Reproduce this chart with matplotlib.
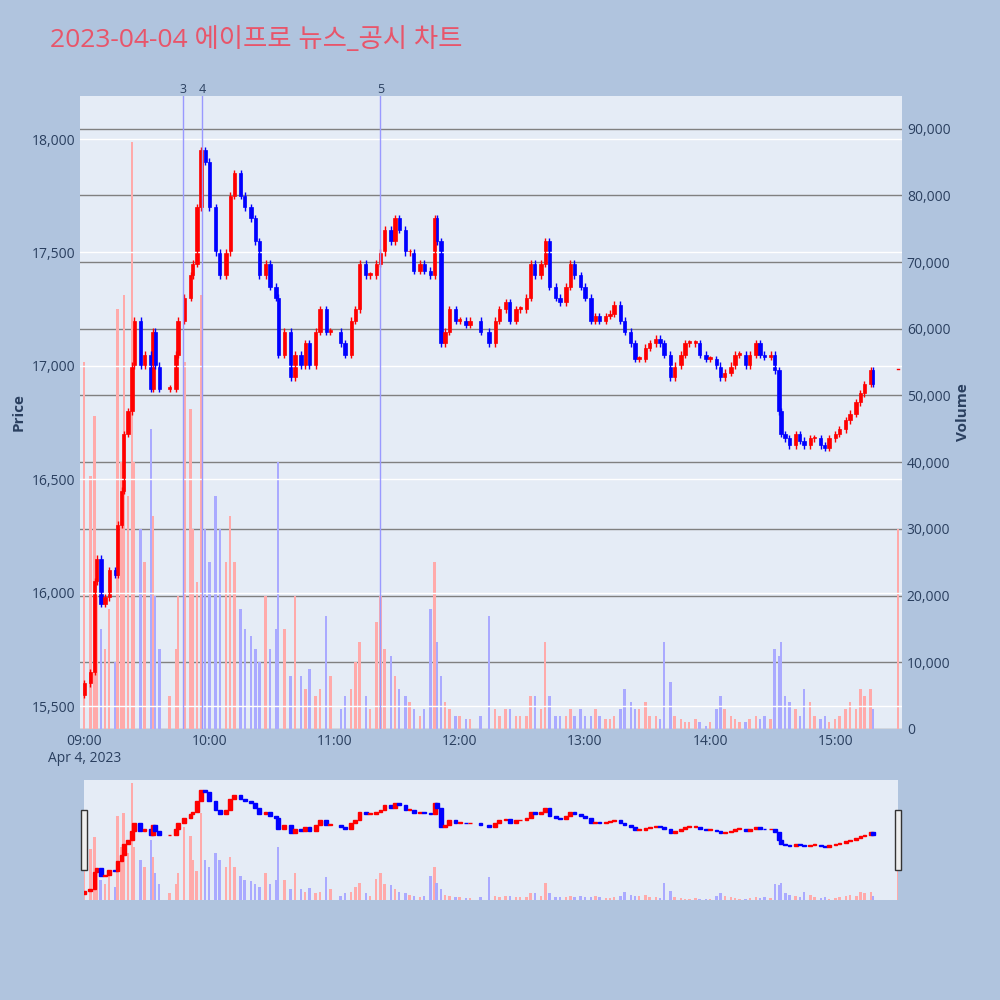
import matplotlib
matplotlib.use("Agg")
import matplotlib.pyplot as plt
import numpy as np

plt.rcParams['font.family'] = ['Open Sans', 'Noto Sans CJK KR', 'DejaVu Sans']

minutes = [0,3,5,6,8,10,12,15,16,18,19,21,23,24,27,29,32,33,34,36,41,44,45,48,51,52,54,56,58,60,63,65,68,70,72,75,77,80,82,84,87,89,92,93,96,99,101,104,106,108,111,113,116,118,123,125,128,130,132,135,137,140,142,144,147,149,151,154,156,158,161,163,166,168,169,171,173,175,178,180,183,185,190,194,197,199,202,204,207,209,212,214,216,219,221,223,226,228,231,233,235,238,240,243,245,247,250,252,254,257,259,262,264,266,269,271,274,276,278,281,283,286,288,290,293,295,298,300,303,305,307,310,312,314,317,319,322,324,326,329,331,333,334,336,338,341,343,345,348,350,353,355,357,360,362,365,367,370,372,374,377,378]
closes = [15600,15650,16050,16150,15950,15980,16100,16080,16300,16450,16700,16800,17000,17200,17000,17050,16900,17150,17000,16900,16900,17050,17200,17300,17400,17450,17700,17950,17900,17700,17500,17400,17500,17750,17850,17750,17700,17650,17550,17400,17450,17350,17300,17050,17150,16950,17050,17000,17100,17000,17150,17250,17150,17150,17100,17050,17200,17250,17450,17400,17400,17450,17500,17600,17550,17650,17600,17500,17500,17420,17450,17420,17400,17650,17550,17100,17150,17250,17200,17200,17180,17200,17150,17100,17200,17250,17280,17200,17250,17250,17300,17450,17400,17450,17550,17350,17300,17280,17350,17450,17400,17350,17300,17200,17220,17200,17220,17230,17270,17200,17150,17100,17030,17030,17080,17100,17120,17100,17050,16950,17000,17050,17100,17100,17100,17050,17030,17030,17000,16950,16970,17000,17050,17050,17000,17050,17100,17050,17040,17050,16980,16800,16700,16680,16650,16700,16670,16650,16680,16680,16650,16640,16680,16700,16720,16760,16790,16840,16880,16920,16980,16920]
volumes = [55000,38000,47000,20000,15000,12000,18000,10000,63000,40000,65000,35000,88000,40000,30000,25000,45000,32000,20000,12000,5000,12000,20000,55000,48000,30000,22000,65000,30000,25000,35000,30000,25000,32000,25000,18000,15000,14000,12000,10000,20000,12000,15000,40000,15000,8000,20000,8000,6000,9000,5000,6000,17000,8000,3000,5000,6000,10000,13000,5000,3000,16000,20000,12000,11000,8000,6000,5000,4000,3000,2000,3000,18000,25000,13000,8000,4000,3000,2000,2000,1500,1500,2000,17000,3000,2000,3000,3000,2000,2000,2000,5000,5000,3000,13000,5000,2000,2000,2000,3000,2000,3000,2000,2000,3000,2000,1500,1500,2000,3000,6000,4000,3000,3000,4000,2000,2000,1500,13000,7000,2000,1500,1000,1000,1500,1000,500,1000,3000,5000,3000,2000,1500,1000,1000,1500,2000,1500,2000,1500,12000,11000,13000,5000,4000,3000,2000,6000,4000,2000,1500,2000,1000,1500,2000,3000,4000,3000,6000,5000,6000,3000]
open_price = 15550
last_minute, last_close, last_volume = 390, 16985, 30000
event_minutes = [47.5, 56.5, 142]
event_labels = ['3', '4', '5']

opens = [open_price] + closes[:-1]
up = [c >= o for c, o in zip(closes, opens)]
cols = ['#FF0000' if u else '#0000FF' for u in up]
vcols = ['#FFAAAA' if u else '#AAAAFF' for u in up]

fig = plt.figure(figsize=(10, 10), dpi=100)
fig.patch.set_facecolor('#B0C4DE')
fig.text(0.05, 0.96, '2023-04-04 에이프로 뉴스_공시 차트', fontsize=19, color='#E8556A', va='center')

pos = [0.08, 0.271, 0.822, 0.633]
bg = fig.add_axes(pos)
bg.set_facecolor('#E5ECF6'); bg.set_xticks([]); bg.set_yticks([])
for s in bg.spines.values(): s.set_visible(False)
bg.set_zorder(0)

ax = fig.add_axes(pos)
axv = ax.twinx()
ax.set_zorder(2); axv.set_zorder(1)
ax.patch.set_visible(False); axv.patch.set_visible(False)

axv.bar(minutes, volumes, width=1.2, color=vcols, zorder=1)
axv.bar([last_minute], [last_volume], width=1.2, color='#FFAAAA')
axv.set_ylim(0, 94900)
axv.set_yticks(range(0, 90001, 10000))
axv.set_yticklabels([f'{v:,}' for v in range(0, 90001, 10000)], fontsize=10, color='#2a3f5f')
axv.grid(axis='y', color='#808080', lw=1)
axv.set_axisbelow(True)
axv.set_ylabel('Volume', fontsize=11, fontweight='bold', color='#2a3f5f')

for m, o, c, col in zip(minutes, opens, closes, cols):
    lo, hi = min(o, c), max(o, c)
    ax.vlines(m, lo - 15, hi + 15, color=col, lw=1)
    ax.bar(m, max(hi - lo, 8), bottom=lo, width=1.6, color=col, edgecolor=col, lw=0.5)
ax.plot([last_minute - 0.5, last_minute + 0.5], [last_close, last_close], color='#FF0000', lw=1)
for em, lab in zip(event_minutes, event_labels):
    ax.axvline(em, color='#9999FF', lw=1)
    ax.text(em, 18190, lab, ha='center', va='bottom', fontsize=9, color='#2a3f5f')

ax.set_ylim(15399, 18190)
ax.set_xlim(-2, 392)
ax.set_yticks(range(15500, 18001, 500))
ax.set_yticklabels([f'{v:,}' for v in range(15500, 18001, 500)], fontsize=10, color='#2a3f5f')
ax.grid(axis='y', color='white', lw=1)
ax.set_xticks([0, 60, 120, 180, 240, 300, 360])
ax.set_xticklabels(['09:00\nApr 4, 2023', '10:00', '11:00', '12:00', '13:00', '14:00', '15:00'],
                   fontsize=10, color='#2a3f5f')
ax.set_ylabel('Price', fontsize=11, fontweight='bold', color='#2a3f5f')
for a in (ax, axv):
    for s in a.spines.values():
        s.set_visible(False)
    a.tick_params(length=0)

# range slider
rpos = [0.084, 0.1, 0.814, 0.12]
rbg = fig.add_axes(rpos)
rbg.set_facecolor('#E5ECF6'); rbg.set_xticks([]); rbg.set_yticks([])
for s in rbg.spines.values(): s.set_visible(False)
rs = fig.add_axes(rpos)
rsv = rs.twinx()
rs.set_zorder(2); rsv.set_zorder(1); rs.patch.set_visible(False); rsv.patch.set_visible(False)
rsv.bar(minutes, volumes, width=1.2, color=vcols)
rsv.bar([last_minute], [last_volume], width=1.2, color='#FFAAAA')
rsv.set_ylim(0, 90000)
for m, o, c, col in zip(minutes, opens, closes, cols):
    lo, hi = min(o, c), max(o, c)
    rs.bar(m, max(hi - lo, 20), bottom=lo, width=1.8, color=col, edgecolor=col, lw=1)
rs.set_ylim(15399, 18190)
rs.set_xlim(0, 390)
for a in (rs, rsv):
    a.set_xticks([]); a.set_yticks([])
    for s in a.spines.values():
        s.set_visible(False)
for xh in (0, 390):
    rs.add_patch(plt.Rectangle((xh - 1.5, 15399 + 700), 3, 1400, facecolor='#EEEEEE',
                               edgecolor='#333333', lw=1, clip_on=False, zorder=5))

fig.savefig('out.png', dpi=100, facecolor=fig.get_facecolor())
